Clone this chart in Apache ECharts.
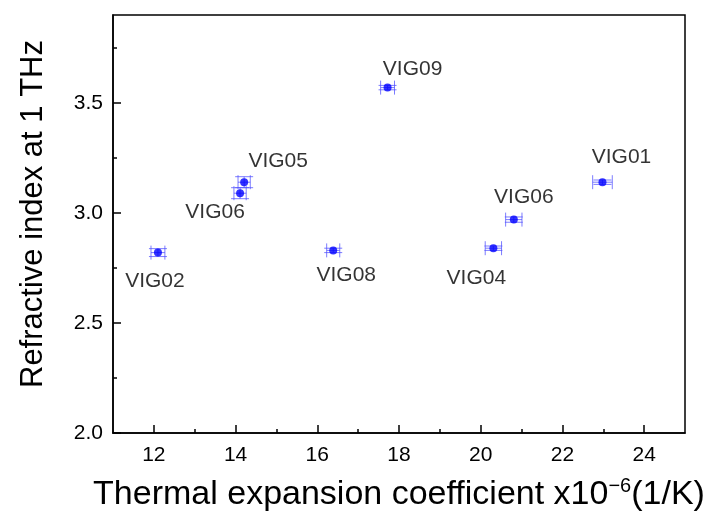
<!DOCTYPE html>
<html>
<head>
<meta charset="utf-8">
<script src="https://cdn.jsdelivr.net/npm/echarts@6/dist/echarts.min.js"></script>
<style>
  html, body { margin: 0; padding: 0; background: #fff; }
  #chart { width: 714px; height: 520px; }
</style>
</head>
<body>
<div id="chart"></div>
<script>
// sample names and measured values
var names = ['VIG02', 'VIG06', 'VIG05', 'VIG09', 'VIG08', 'VIG04', 'VIG06', 'VIG01']
var xValues = [12.1, 14.11, 14.21, 17.72, 16.39, 20.31, 20.81, 22.98]
var yValues = [2.82, 3.09, 3.14, 3.57, 2.83, 2.84, 2.97, 3.14]
var xErrors = [0.17, 0.15, 0.15, 0.17, 0.16, 0.2, 0.2, 0.24]
var yErrors = [0.018, 0.025, 0.025, 0.01, 0.01, 0.01, 0.012, 0.01]

// tick labels
var xTicks = [12, 14, 16, 18, 20, 22, 24]
var xMinorTicks = [13, 15, 17, 19, 21, 23]
var yTicks = [2.0, 2.5, 3.0, 3.5]
var yMinorTicks = [2.25, 2.75, 3.25, 3.75]

// label offsets (px) relative to each point
var labelOffsets = [[-3, 29], [-25, 19], [34, -21], [25, -18], [13, 25], [-17, 30], [10, -22], [19, -25]]

var FONT = 'Liberation Sans, Arial, Helvetica, sans-serif'

var chart = echarts.init(document.getElementById('chart'))

var pointData = []
var errData = []
for (var i = 0; i < names.length; i++) {
  pointData.push({
    value: [xValues[i], yValues[i]],
    name: names[i],
    label: { offset: labelOffsets[i] },
  })
  errData.push([xValues[i], yValues[i], xErrors[i], yErrors[i]])
}

function renderErr(params, api) {
  var x = api.value(0), y = api.value(1), dx = api.value(2), dy = api.value(3)
  var c = api.coord([x, y])
  var l = api.coord([x - dx, y]), r = api.coord([x + dx, y])
  var t = api.coord([x, y + dy]), b = api.coord([x, y - dy])
  var capH = 7, capW = 9
  var st = { stroke: 'rgba(80,80,255,0.75)', lineWidth: 1 }
  return {
    type: 'group',
    children: [
      { type: 'line', shape: { x1: l[0], y1: c[1], x2: r[0], y2: c[1] }, style: st },
      { type: 'line', shape: { x1: l[0], y1: c[1] - capH, x2: l[0], y2: c[1] + capH }, style: st },
      { type: 'line', shape: { x1: r[0], y1: c[1] - capH, x2: r[0], y2: c[1] + capH }, style: st },
      { type: 'line', shape: { x1: c[0], y1: t[1], x2: c[0], y2: b[1] }, style: st },
      { type: 'line', shape: { x1: c[0] - capW, y1: t[1], x2: c[0] + capW, y2: t[1] }, style: st },
      { type: 'line', shape: { x1: c[0] - capW, y1: b[1], x2: c[0] + capW, y2: b[1] }, style: st },
    ],
  }
}

var option = {
  animation: false,
  backgroundColor: '#fff',
  grid: {
    left: 113,
    right: 29,
    top: 15,
    bottom: 87,
    show: true,
    borderColor: '#000',
    borderWidth: 1.5,
  },
  xAxis: [
    {
      type: 'value',
      min: 11,
      max: 25,
      name: 'Thermal expansion coefficient x10{sup|−6}(1/K)',
      nameLocation: 'middle',
      nameGap: 43,
      nameTextStyle: {
        fontFamily: FONT,
        fontSize: 34,
        color: '#000',
        rich: { sup: { fontFamily: FONT, fontSize: 20, color: '#000', verticalAlign: 'top', padding: [0, 0, 17, 0] } },
      },
      axisLine: { show: true, onZero: false, lineStyle: { color: '#000', width: 1.5 } },
      axisTick: { show: true, inside: true, length: 8, customValues: xTicks, lineStyle: { color: '#000', width: 1.5 } },
      axisLabel: { customValues: xTicks, margin: 12, fontFamily: FONT, fontSize: 21, color: '#000' },
      splitLine: { show: false },
    },
    {
      type: 'value',
      min: 11,
      max: 25,
      position: 'bottom',
      axisLine: { show: false },
      axisTick: { show: true, inside: true, length: 4, customValues: xMinorTicks, lineStyle: { color: '#000', width: 1.5 } },
      axisLabel: { show: false },
      splitLine: { show: false },
    },
  ],
  yAxis: [
    {
      type: 'value',
      min: 2.0,
      max: 3.9,
      name: 'Refractive index at 1 THz',
      nameLocation: 'middle',
      nameRotate: 90,
      nameGap: 64,
      nameTextStyle: { fontFamily: FONT, fontSize: 31, color: '#000', padding: [0, 0, 0, 20] },
      axisLine: { show: true, onZero: false, lineStyle: { color: '#000', width: 1.5 } },
      axisTick: { show: true, inside: true, length: 8, customValues: yTicks, lineStyle: { color: '#000', width: 1.5 } },
      axisLabel: {
        customValues: yTicks,
        margin: 10,
        fontFamily: FONT,
        fontSize: 21,
        color: '#000',
        formatter: function (v) { return v.toFixed(1) },
      },
      splitLine: { show: false },
    },
    {
      type: 'value',
      min: 2.0,
      max: 3.9,
      position: 'left',
      axisLine: { show: false },
      axisTick: { show: true, inside: true, length: 4, customValues: yMinorTicks, lineStyle: { color: '#000', width: 1.5 } },
      axisLabel: { show: false },
      splitLine: { show: false },
    },
  ],
  series: [
    {
      type: 'custom',
      renderItem: renderErr,
      data: errData,
      z: 2,
      silent: true,
    },
    {
      type: 'scatter',
      data: pointData,
      symbolSize: 8,
      itemStyle: { color: '#0000ff' },
      z: 3,
      label: {
        show: true,
        position: 'inside',
        formatter: '{b}',
        fontFamily: FONT,
        fontSize: 21,
        color: '#000',
        textBorderWidth: 0,
      },
    },
  ],
}

chart.setOption(option)
</script>
</body>
</html>
